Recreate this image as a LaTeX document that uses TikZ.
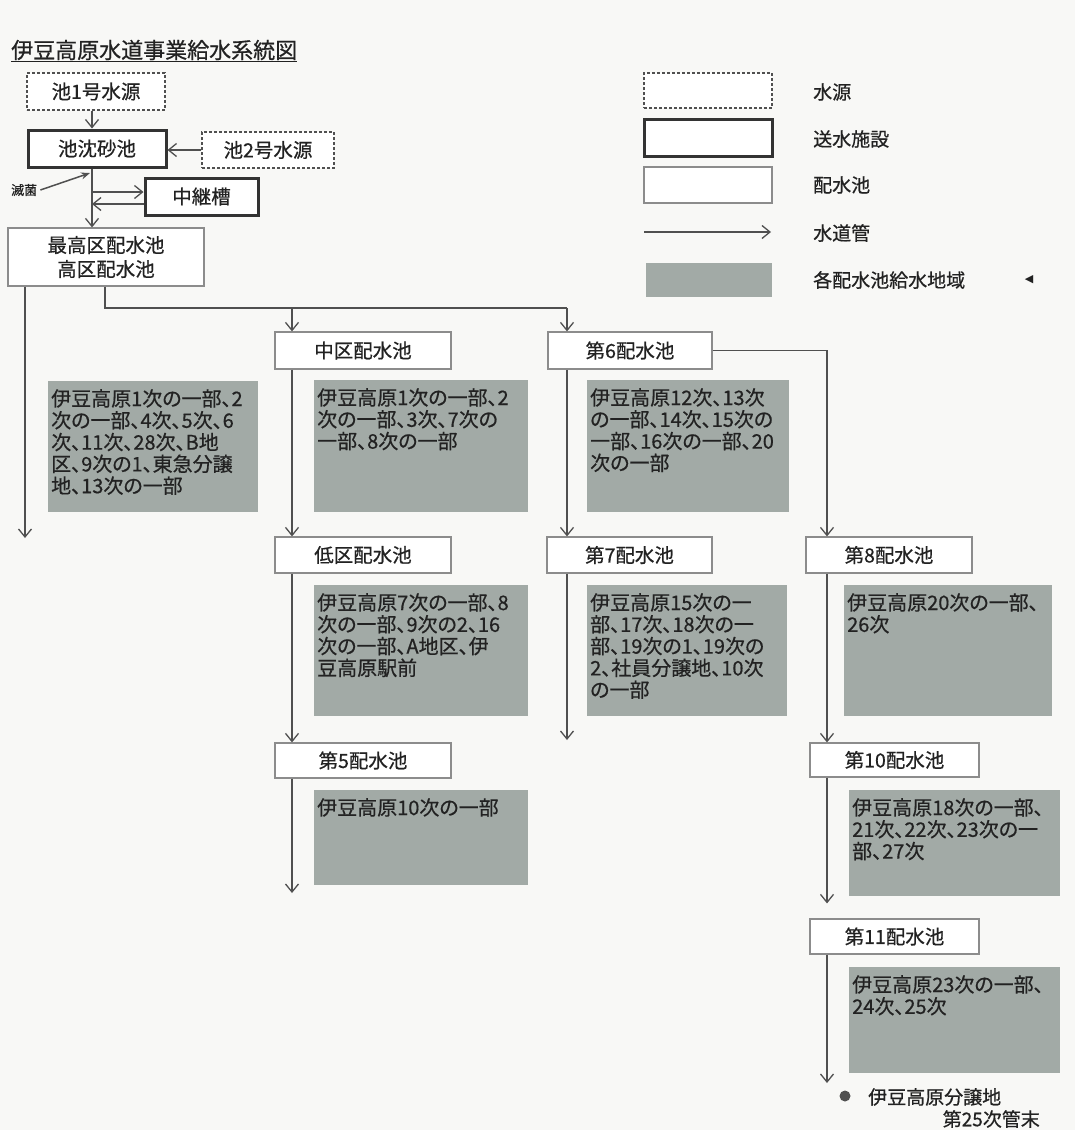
\documentclass[tikz,border=0pt]{standalone}
\usepackage{fontspec}
\setmainfont{Noto Sans CJK JP}[RawFeature={+palt}, FakeBold=0.6]
\newfontfamily\symfont{DejaVu Sans}
\usetikzlibrary{arrows.meta}
\definecolor{areac}{RGB}{162,170,166}
\definecolor{linec}{RGB}{80,80,80}
\definecolor{txtc}{RGB}{34,34,34}
\definecolor{resc}{RGB}{140,140,140}
\definecolor{paper}{RGB}{248,248,246}
\tikzset{
  srcbox/.style={draw=linec, dash pattern=on 3pt off 2pt, line width=1.4pt, fill=white, inner sep=0pt, text=txtc, font=\fontsize{19.5}{22}\selectfont},
  facbox/.style={draw=black!80, line width=3pt, fill=white, inner sep=0pt, text=txtc, font=\fontsize{19.5}{22}\selectfont},
  resbox/.style={draw=resc, line width=1.2pt, fill=white, inner sep=0pt, text=txtc, font=\fontsize{19.5}{22}\selectfont},
  areabox/.style={fill=areac, draw=none, inner sep=0pt},
  areatext/.style={anchor=north west, inner sep=0pt, align=left, text=txtc, font=\fontsize{20}{21.8}\selectfont},
  pipe/.style={draw=linec, line width=1.5pt, -{Straight Barb[length=8pt,width=13pt,line width=1.3pt]}},
  pipeline/.style={draw=linec, line width=1.5pt},
  legtext/.style={anchor=west, inner sep=0pt, text=txtc, font=\fontsize{19}{22}\selectfont},
}
\begin{document}
\begin{tikzpicture}[x=1pt,y=-1pt]
\useasboundingbox (0,0) rectangle (1075,1130);
\fill[paper] (0,0) rectangle (1075,1130);

% title
\node[anchor=west, inner sep=0pt, text=txtc, font=\fontsize{22}{24}\selectfont] (title) at (11,51) {\underline{伊豆高原水道事業給水系統図}};

% column coordinates
\coordinate (tx) at (92,0);
\coordinate (c1) at (292,0);
\coordinate (c2) at (567,0);
\coordinate (c3) at (827,0);

% source / facility boxes
\node[srcbox, minimum width=138pt, minimum height=37pt] (src1) at (96,91.5) {池1号水源};
\node[facbox, minimum width=138pt, minimum height=37pt] (sand) at (97,148.5) {池沈砂池};
\node[srcbox, minimum width=132pt, minimum height=36pt] (src2) at (268,150) {池2号水源};
\node[facbox, minimum width=113pt, minimum height=37pt] (relay) at (201.5,196.5) {中継槽};
\node[resbox, minimum width=196pt, minimum height=58pt, align=center, font=\fontsize{19.5}{24}\selectfont] (hq) at (106,257) {最高区配水池\\高区配水池};

\node[anchor=west, inner sep=0pt, text=txtc, font=\fontsize{13}{15}\selectfont] (kin) at (11,190) {滅菌};
\coordinate (kinpt) at (90,173);
\draw[linec, line width=1.5pt, -{Stealth[length=9pt,width=7pt]}] (kin.east) ++(3,0) -- (kinpt);

\draw[pipe] (src1.south -| tx) -- (sand.north -| tx);
\draw[pipe] (src2.west) -- (sand.east |- src2.west);
\draw[pipe] (sand.south -| tx) -- (hq.north -| tx);
\coordinate (r1) at (92,192);
\coordinate (r2) at (92,204);
\draw[pipe] (r1) -- (r1 -| relay.west);
\draw[pipe] (relay.west |- r2) -- (r2);

% distribution reservoirs
\node[resbox, minimum width=176pt, minimum height=37pt] (chu) at (363,350.5) {中区配水池};
\node[resbox, minimum width=164pt, minimum height=37pt] (d6) at (630,350.5) {第6配水池};
\node[resbox, minimum width=176pt, minimum height=36pt] (low) at (363,555) {低区配水池};
\node[resbox, minimum width=165pt, minimum height=36pt] (d7) at (629.5,555) {第7配水池};
\node[resbox, minimum width=166pt, minimum height=36pt] (d8) at (889,555) {第8配水池};
\node[resbox, minimum width=176pt, minimum height=35pt] (d5) at (363,760.5) {第5配水池};
\node[resbox, minimum width=169pt, minimum height=34pt] (d10) at (894.5,760) {第10配水池};
\node[resbox, minimum width=169pt, minimum height=35pt] (d11) at (894.5,936.5) {第11配水池};

% supply areas
\node[areabox, minimum width=210pt, minimum height=131pt, anchor=north west] (a0) at (48,381) {};
\node[areabox, minimum width=214pt, minimum height=132pt, anchor=north west] (a1) at (314,380) {};
\node[areabox, minimum width=202pt, minimum height=132pt, anchor=north west] (a2) at (587,380) {};
\node[areabox, minimum width=214pt, minimum height=131pt, anchor=north west] (a3) at (314,585) {};
\node[areabox, minimum width=200pt, minimum height=131pt, anchor=north west] (a4) at (587,585) {};
\node[areabox, minimum width=208pt, minimum height=131pt, anchor=north west] (a5) at (844,585) {};
\node[areabox, minimum width=214pt, minimum height=95pt, anchor=north west] (a6) at (314,790) {};
\node[areabox, minimum width=211pt, minimum height=106pt, anchor=north west] (a7) at (849,790) {};
\node[areabox, minimum width=211pt, minimum height=106pt, anchor=north west] (a8) at (849,967) {};

\node[areatext] (t0) at ([shift={(3,8)}]a0.north west) {伊豆高原1次の一部、2\\次の一部、4次、5次、6\\次、11次、28次、B地\\区、9次の1、東急分譲\\地、13次の一部};
\node[areatext] (t1) at ([shift={(3,8)}]a1.north west) {伊豆高原1次の一部、2\\次の一部、3次、7次の\\一部、8次の一部};
\node[areatext] (t2) at ([shift={(3,8)}]a2.north west) {伊豆高原12次、13次\\の一部、14次、15次の\\一部、16次の一部、20\\次の一部};
\node[areatext] (t3) at ([shift={(3,8)}]a3.north west) {伊豆高原7次の一部、8\\次の一部、9次の2、16\\次の一部、A地区、伊\\豆高原駅前};
\node[areatext] (t4) at ([shift={(3,8)}]a4.north west) {伊豆高原15次の一\\部、17次、18次の一\\部、19次の1、19次の\\2、社員分譲地、10次\\の一部};
\node[areatext] (t5) at ([shift={(3,8)}]a5.north west) {伊豆高原20次の一部、\\26次};
\node[areatext] (t6) at ([shift={(3,8)}]a6.north west) {伊豆高原10次の一部};
\node[areatext] (t7) at ([shift={(3,8)}]a7.north west) {伊豆高原18次の一部、\\21次、22次、23次の一\\部、27次};
\node[areatext] (t8) at ([shift={(3,8)}]a8.north west) {伊豆高原23次の一部、\\24次、25次};

% pipes from hq
\coordinate (lend) at (25,538);
\draw[pipe] (hq.south -| lend) -- (lend);
\coordinate (bx) at (105,308);
\draw[pipeline] (hq.south -| bx) -- (bx) -- (bx -| c2);
\draw[pipe] (bx -| c1) -- (chu.north -| c1);
\draw[pipe] (bx -| c2) -- (d6.north -| c2);

\draw[pipe] (chu.south -| c1) -- (low.north -| c1);
\draw[pipe] (low.south -| c1) -- (d5.north -| c1);
\coordinate (e5) at (292,893);
\draw[pipe] (d5.south -| c1) -- (e5);

\draw[pipe] (d6.south -| c2) -- (d7.north -| c2);
\coordinate (e7) at (567,740);
\draw[pipe] (d7.south -| c2) -- (e7);

\draw[pipe] (d6.east) -| (d8.north -| c3);
\draw[pipe] (d8.south -| c3) -- (d10.north -| c3);
\draw[pipe, shorten >=15pt] (d10.south -| c3) -- (d11.north -| c3);
\coordinate (e11) at (827,1083);
\draw[pipe] (d11.south -| c3) -- (e11);

\node[circle, fill=linec, inner sep=0pt, minimum size=11pt] (dot) at (845,1096) {};
\node[anchor=west, inner sep=0pt, text=txtc, font=\fontsize{19}{22}\selectfont] (endt1) at (868,1097) {伊豆高原分譲地};
\node[anchor=east, inner sep=0pt, text=txtc, font=\fontsize{19}{22}\selectfont] (endt2) at (1040,1119) {第25次管末};

% legend
\node[srcbox, minimum width=128pt, minimum height=35pt] (lg1) at (708,90.5) {};
\node[facbox, minimum width=128pt, minimum height=37pt] (lg2) at (708,137.5) {};
\node[resbox, minimum width=128pt, minimum height=36pt] (lg3) at (708,185) {};
\coordinate (lg4a) at (644,232);
\coordinate (lg4b) at (771,232);
\draw[pipe] (lg4a) -- (lg4b);
\node[areabox, minimum width=126pt, minimum height=34pt] (lg5) at (709,280) {};
\node[legtext] (lt1) at (813,92) {水源};
\node[legtext] (lt2) at (813,139) {送水施設};
\node[legtext] (lt3) at (813,185) {配水池};
\node[legtext] (lt4) at (813,233) {水道管};
\node[legtext] (lt5) at (813,280) {各配水池給水地域};
\node[inner sep=0pt, text=txtc, font=\symfont\fontsize{11}{12}\selectfont] (tri) at (1029,280) {◀};
\end{tikzpicture}
\end{document}
